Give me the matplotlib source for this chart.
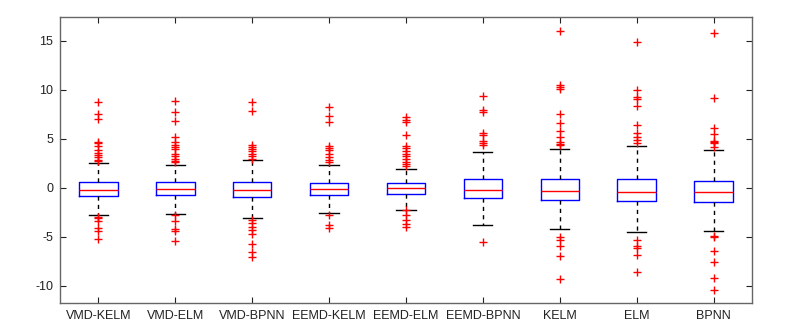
import matplotlib
matplotlib.use("Agg")
import matplotlib.pyplot as plt

categories = ["VMD-KELM", "VMD-ELM", "VMD-BPNN", "EEMD-KELM", "EEMD-ELM",
              "EEMD-BPNN", "KELM", "ELM", "BPNN"]
q1 = [-0.78, -0.75, -0.92, -0.75, -0.58, -1.05, -1.26, -1.33, -1.39]
medians = [-0.17, -0.14, -0.20, -0.10, -0.03, -0.17, -0.27, -0.37, -0.44]
q3 = [0.58, 0.58, 0.58, 0.54, 0.51, 0.88, 0.95, 0.92, 0.71]
whisker_low = [-2.72, -2.69, -3.03, -2.52, -2.21, -3.81, -4.22, -4.52, -4.39]
whisker_high = [2.52, 2.38, 2.82, 2.38, 1.94, 3.67, 4.01, 4.29, 3.88]
outliers = [
    [8.75, 7.55, 7.04, 4.7, 4.55, 4.3, 3.9, 3.6, 3.4, 3.2, 2.9, 2.75,
     -3.0, -3.1, -3.4, -4.1, -4.4, -5.2],
    [8.85, 7.7, 6.85, 5.15, 4.7, 4.4, 4.2, 3.95, 3.5, 3.3, 3.0, 2.75, 2.6,
     -2.75, -3.35, -4.2, -4.4, -5.45],
    [8.8, 7.85, 4.4, 4.2, 4.0, 3.75, 3.5, 3.25, 3.0,
     -3.25, -3.6, -3.95, -4.3, -4.7, -5.75, -6.55, -7.05],
    [8.3, 7.3, 6.75, 4.3, 4.1, 3.85, 3.5, 3.2, 2.85, 2.6,
     -2.75, -3.8, -4.05],
    [7.2, 6.95, 6.7, 5.45, 4.3, 4.05, 3.8, 3.5, 3.25, 2.95, 2.6, 2.45, 2.25,
     -2.25, -2.75, -3.25, -3.65, -4.0],
    [9.4, 7.95, 7.8, 5.65, 5.4, 4.8, 4.55, 4.35,
     -5.55],
    [16.05, 10.55, 10.35, 10.05, 7.5, 6.65, 5.85, 5.15, 4.65, 4.5, 4.4,
     -5.05, -5.3, -5.95, -6.9, -9.3],
    [14.85, 10.0, 9.25, 9.1, 8.35, 6.4, 5.6, 5.15, 4.9, 4.6,
     -5.3, -5.9, -6.1, -6.85, -8.6],
    [15.8, 9.15, 6.1, 5.5, 4.8, 4.65, 4.55, 4.15,
     -4.9, -5.0, -6.45, -7.6, -9.15, -10.4],
]
yticks = [-10, -5, 0, 5, 10, 15]

plt.rcParams['font.family'] = ['Liberation Sans', 'DejaVu Sans']

fig = plt.figure(figsize=(7.87, 3.36), dpi=100)
ax = fig.add_axes([0.0762, 0.0982, 0.8793, 0.8512])

stats = []
for i, name in enumerate(categories):
    stats.append(dict(label=name, q1=q1[i], med=medians[i], q3=q3[i],
                      whislo=whisker_low[i], whishi=whisker_high[i],
                      fliers=outliers[i]))

positions = list(range(1, len(categories) + 1))
ax.bxp(stats, positions=positions, widths=0.5, capwidths=0.25,
       showfliers=True,
       boxprops=dict(color='#0000ff', linewidth=1.0),
       medianprops=dict(color='#ff0000', linewidth=1.0),
       whiskerprops=dict(color='black', linewidth=1.0, linestyle=(0, (3, 3))),
       capprops=dict(color='black', linewidth=1.0),
       flierprops=dict(marker='+', markeredgecolor='#ff0000',
                       markerfacecolor='none', markersize=6,
                       markeredgewidth=1.0, linestyle='none'))

ax.set_xlim(0.5, 9.5)
ax.set_ylim(-11.75, 17.45)
ax.set_xticks(positions)
ax.set_xticklabels(categories)
ax.set_yticks(yticks)
ax.set_yticklabels([str(v) for v in yticks])
ax.tick_params(direction='in', length=4.5, width=0.8, top=True, right=True,
               labelsize=9, color='#222222', labelcolor='#222222', pad=5)
for s in ax.spines.values():
    s.set_color('#666666')
    s.set_linewidth(1.0)

fig.savefig("out.png", dpi=100)
